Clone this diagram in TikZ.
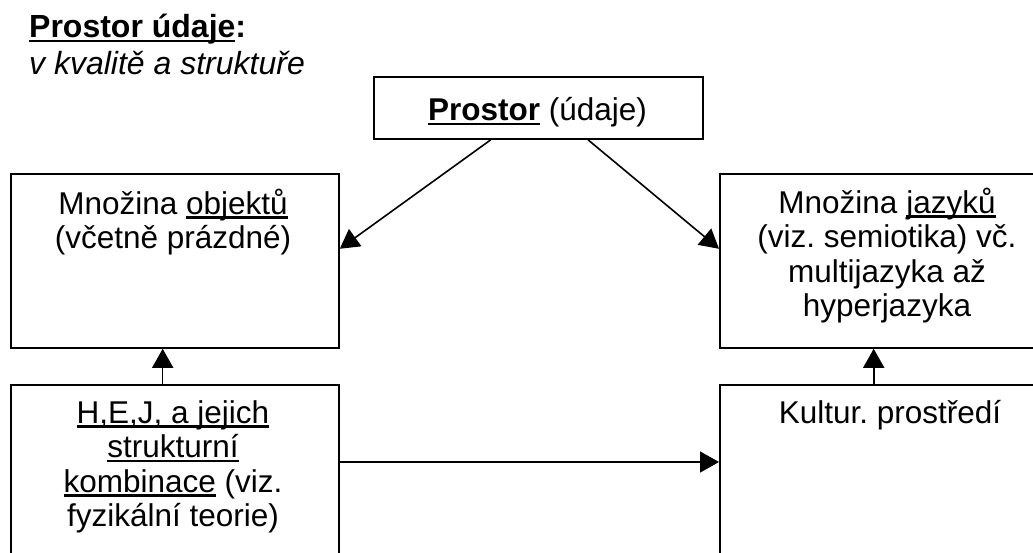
\documentclass[tikz,border=0pt]{standalone}
\usepackage{fontspec}
\setmainfont{Liberation Sans}
\usetikzlibrary{arrows.meta,calc}
\frenchspacing

% underline at a fixed depth below the baseline (crosses descenders)
\newsavebox\ulinebox
\newcommand\ulinetext[1]{\sbox\ulinebox{#1}\rlap{\rule[-0.14em]{\wd\ulinebox}{0.075em}}\usebox\ulinebox}

\begin{document}
\begin{tikzpicture}[x=1pt,y=-1pt,
  box/.style={draw, line width=1.8pt, rectangle, inner sep=0pt, anchor=north west},
  boxtext/.style={anchor=north, inner sep=0pt, align=center, font=\fontsize{31.5}{34.5}\selectfont},
  conn/.style={line width=1.6pt, -{Triangle[length=19pt,width=21pt]}}]
\useasboundingbox (0,0) rectangle (1033,553);
\clip (0,0) rectangle (1033,553);

% heading
\node[anchor=base west, inner sep=0pt, font=\fontsize{32}{38}\selectfont\bfseries] (title) at (29,38) {\ulinetext{Prostor údaje}:};
\node[anchor=base west, inner sep=0pt, font=\fontsize{32}{38}\selectfont\itshape] (subtitle) at (29,75) {v kvalitě a struktuře};

% boxes
\node[box, minimum width=329pt, minimum height=62pt] (P) at (373,76) {};
\node[box, minimum width=328pt, minimum height=174pt] (A) at (10,173) {};
\node[box, minimum width=336pt, minimum height=174pt] (B) at (719,173) {};
\node[box, minimum width=328pt, minimum height=250pt] (C) at (10,384) {};
\node[box, minimum width=336pt, minimum height=250pt] (D) at (719,384) {};

% box texts
\node[anchor=base, inner sep=0pt, font=\fontsize{31.5}{34.5}\selectfont] (Ptext) at (537.5,121) {\ulinetext{\textbf{Prostor}} (údaje)};
\node[boxtext] (Atext) at (173,186) {\rule{0pt}{28pt}Množina \ulinetext{objektů}\\(včetně prázdné)};
\node[boxtext] (Btext) at (887,185) {\rule{0pt}{28pt}Množina \ulinetext{jazyků}\\(viz. semiotika) vč.\\multijazyka až\\hyperjazyka};
\node[boxtext] (Ctext) at (173,395) {\rule{0pt}{28pt}\ulinetext{H,E,J, a jejich}\\\ulinetext{strukturní}\\\ulinetext{kombinace} (viz.\\fyzikální teorie)};
\node[boxtext] (Dtext) at (890,395) {\rule{0pt}{28pt}Kultur. prostředí};

% connectors
\draw[conn] ($(P.south west)!0.356!(P.south east)$) -- ($(A.north east)!0.431!(A.south east)$);
\draw[conn] ($(P.south west)!0.65!(P.south east)$) -- ($(B.north west)!0.431!(B.south west)$);
\coordinate (cup) at ($(C.north west)!0.463!(C.north east)$);
\draw[conn] (cup) -- (cup |- A.south);
\coordinate (dup) at ($(D.north west)!0.458!(D.north east)$);
\draw[conn] (dup) -- (dup |- B.south);
\coordinate (cout) at ($(C.north east)+(0,78)$);
\draw[conn] (cout) -- (cout -| D.west);
\end{tikzpicture}
\end{document}
